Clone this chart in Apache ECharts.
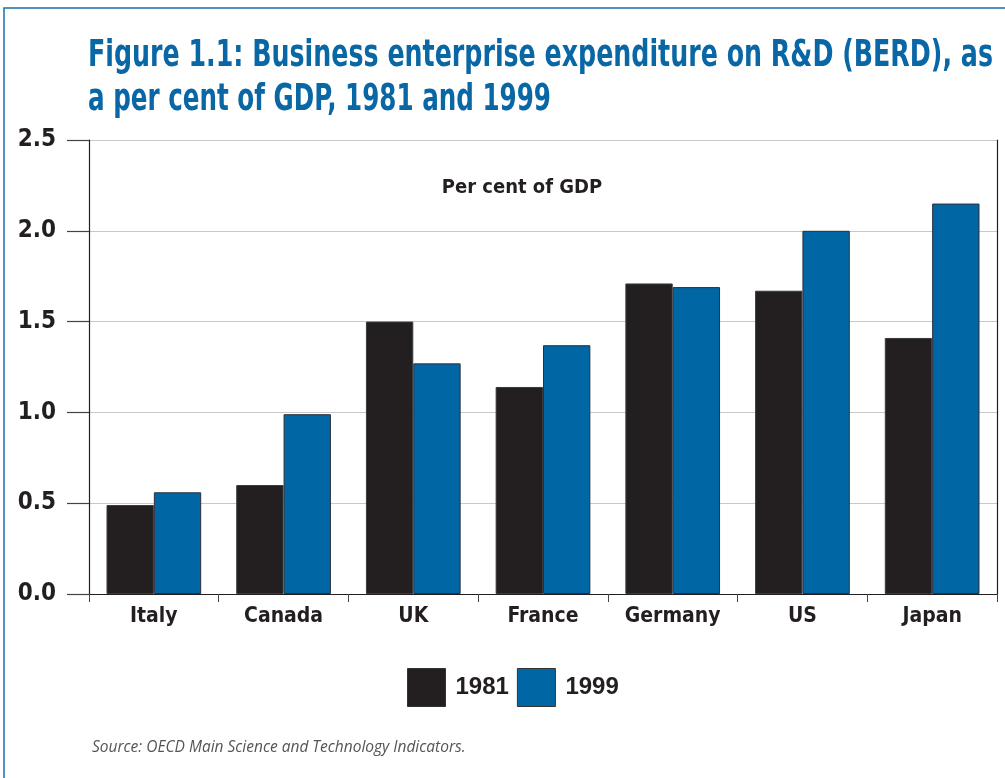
<!DOCTYPE html>
<html><head><meta charset="utf-8">
<script src="https://cdn.jsdelivr.net/npm/echarts@6/dist/echarts.min.js"></script>
<style>html,body{margin:0;padding:0;background:#fff}#c{width:1005px;height:778px}</style>
</head><body><div id="c"></div>
<script>
const categories = ['Italy','Canada','UK','France','Germany','US','Japan'];
const values1981 = [0.49, 0.60, 1.50, 1.14, 1.71, 1.67, 1.41];
const values1999 = [0.56, 0.99, 1.27, 1.37, 1.69, 2.00, 2.15];
const seriesNames = ['1981','1999'];
const titleLine1 = 'Figure 1.1: Business enterprise expenditure on R&D (BERD), as';
const titleLine2 = 'a per cent of GDP, 1981 and 1999';
const unitText = 'Per cent of GDP';
const sourceText = 'Source: OECD Main Science and Technology Indicators.';

const FONT = '"DejaVu Sans Condensed", "DejaVu Sans", sans-serif';
const TFONT = 'bold 38px "DejaVu Sans Condensed", "DejaVu Sans", sans-serif';
const chart = echarts.init(document.getElementById('c'), null, {renderer:'canvas'});
chart.setOption({
  backgroundColor: '#fff',
  animation: false,
  title: [{
    text: unitText,
    left: 517, top: 173, textAlign: 'center',
    textStyle: {color:'#231f20', fontFamily: FONT, fontWeight:'bold', fontSize: 20}
  },{
    text: sourceText,
    left: 87, top: 735,
    textStyle: {color:'#555', fontFamily: '"Open Sans", sans-serif', fontStyle:'italic', fontWeight:'normal', fontSize: 15.5}
  }],
  graphic: [{
    type:'rect', shape:{x:4, y:8, width:1200, height:1000},
    style:{fill:'none', stroke:'#1a6fab', lineWidth:1.5}, silent:true
  },{
    type:'text', x:88, y:37, scaleX:0.74, scaleY:1,
    style:{text: titleLine1, font: TFONT, fill:'#0a67a5', textVerticalAlign:'top'}, silent:true
  },{
    type:'text', x:88, y:81, scaleX:0.72, scaleY:1,
    style:{text: titleLine2, font: TFONT, fill:'#0a67a5', textVerticalAlign:'top'}, silent:true
  }],
  legend: {
    data: seriesNames,
    top: 663, left: 402,
    itemWidth: 38, itemHeight: 38, itemGap: 8,
    icon: 'rect',
    itemStyle: {borderColor:'#333', borderWidth:1},
    textStyle: {color:'#231f20', fontFamily: '"Liberation Sans", sans-serif', fontWeight:'bold', fontSize: 24, padding:[0,0,0,5]}
  },
  grid: {left: 89, right: 8, top: 140, bottom: 184, containLabel: false},
  xAxis: {
    type:'category', data: categories,
    axisLine:{show:true, lineStyle:{color:'#231f20', width:1.2}},
    axisTick:{show:true, length:8, lineStyle:{color:'#444'}},
    axisLabel:{interval:0, color:'#231f20', fontFamily: FONT, fontWeight:'bold', fontSize: 21, margin: 12},
    splitLine:{show:false}
  },
  yAxis: [{
    type:'value', min:0, max:2.5, interval:0.5,
    axisLine:{show:true, lineStyle:{color:'#231f20', width:1.2}},
    axisTick:{show:true, length:22, lineStyle:{color:'#444', width:1.2}},
    axisLabel:{color:'#231f20', fontFamily: FONT, fontWeight:'bold', fontSize: 24, margin: 33,
      formatter: v => v.toFixed(1)},
    splitLine:{show:true, lineStyle:{color:'#c8c8c8', width:1.2}}
  },{
    type:'value', min:0, max:2.5, interval:0.5, position:'right',
    axisLine:{show:true, lineStyle:{color:'#231f20', width:1.2}},
    axisTick:{show:false}, axisLabel:{show:false}, splitLine:{show:false}
  }],
  series: [{
    name: seriesNames[0], type:'bar', data: values1981,
    barGap: '0%', barCategoryGap: '27%',
    itemStyle:{color:'#231f20', borderColor:'#3a3a3a', borderWidth:1}
  },{
    name: seriesNames[1], type:'bar', data: values1999,
    itemStyle:{color:'#0066a4', borderColor:'#2a2f3a', borderWidth:1}
  }]
});
</script></body></html>
